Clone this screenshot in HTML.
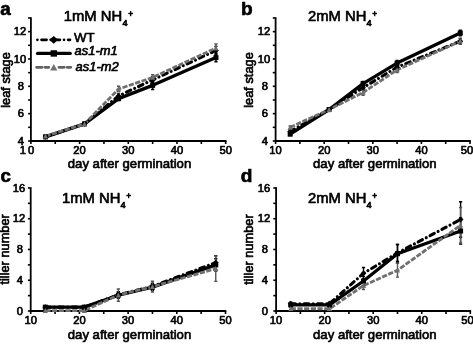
<!DOCTYPE html>
<html><head><meta charset="utf-8"><title>Figure</title>
<style>
html,body{margin:0;padding:0;background:#fff;}
body{width:473px;height:345px;overflow:hidden;font-family:"Liberation Sans", sans-serif;}
svg{display:block;font-family:"Liberation Sans", sans-serif;}
svg text{fill:#000;stroke:#000;stroke-width:0.65px;stroke-linejoin:round;}
svg{filter:blur(0.4px);}
</style></head><body>
<svg width="473" height="345" viewBox="0 0 473 345">
<rect width="473" height="345" fill="#fff"/>
<g id="pa"><path d="M30.9 17.27V141.75" stroke="#000" stroke-width="1.8" fill="none"/><path d="M30.099999999999998 141.0H226.50" stroke="#000" stroke-width="1.8" fill="none"/><path d="M30.90 141.0V144.0" stroke="#000" stroke-width="1.6"/><path d="M55.25 141.0V144.0" stroke="#000" stroke-width="1.6"/><path d="M79.60 141.0V144.0" stroke="#000" stroke-width="1.6"/><path d="M103.95 141.0V144.0" stroke="#000" stroke-width="1.6"/><path d="M128.30 141.0V144.0" stroke="#000" stroke-width="1.6"/><path d="M152.65 141.0V144.0" stroke="#000" stroke-width="1.6"/><path d="M177.00 141.0V144.0" stroke="#000" stroke-width="1.6"/><path d="M201.35 141.0V144.0" stroke="#000" stroke-width="1.6"/><path d="M225.70 141.0V144.0" stroke="#000" stroke-width="1.6"/><text x="27.90" y="154.4" font-size="11.2" stroke-width="0.55" text-anchor="middle" letter-spacing="2">10</text><text x="79.60" y="154.4" font-size="11.2" stroke-width="0.55" text-anchor="middle">20</text><text x="128.30" y="154.4" font-size="11.2" stroke-width="0.55" text-anchor="middle">30</text><text x="177.00" y="154.4" font-size="11.2" stroke-width="0.55" text-anchor="middle">40</text><text x="225.70" y="154.4" font-size="11.2" stroke-width="0.55" text-anchor="middle">50</text><path d="M28.099999999999998 141.00H30.9" stroke="#000" stroke-width="1.6"/><path d="M28.099999999999998 113.66H30.9" stroke="#000" stroke-width="1.6"/><path d="M28.099999999999998 86.32H30.9" stroke="#000" stroke-width="1.6"/><path d="M28.099999999999998 58.98H30.9" stroke="#000" stroke-width="1.6"/><path d="M28.099999999999998 31.64H30.9" stroke="#000" stroke-width="1.6"/><path d="M28.099999999999998 127.33H30.9" stroke="#000" stroke-width="1.6"/><path d="M28.099999999999998 99.99H30.9" stroke="#000" stroke-width="1.6"/><path d="M28.099999999999998 72.65H30.9" stroke="#000" stroke-width="1.6"/><path d="M28.099999999999998 45.31H30.9" stroke="#000" stroke-width="1.6"/><path d="M28.099999999999998 17.97H30.9" stroke="#000" stroke-width="1.6"/><text x="24.10" y="144.60" font-size="11.2" stroke-width="0.7" text-anchor="end">4</text><text x="24.10" y="117.26" font-size="11.2" stroke-width="0.7" text-anchor="end">6</text><text x="24.10" y="89.92" font-size="11.2" stroke-width="0.7" text-anchor="end">8</text><text x="26.20" y="62.58" font-size="11.2" stroke-width="0.7" text-anchor="end">10</text><text x="26.20" y="35.24" font-size="11.2" stroke-width="0.7" text-anchor="end">12</text><text x="0.19999999999999996" y="14.8" font-size="18.8" font-weight="bold" stroke-width="0.6">a</text><text x="63.8" y="21" font-size="14.8">1mM NH<tspan font-size="9.3" dy="4.9" dx="0.2">4</tspan><tspan font-size="8.4" dy="-9.2" dx="0.6">+</tspan></text><text transform="translate(9.6 80) rotate(-90)" font-size="12.8" text-anchor="middle">leaf stage</text><text x="129.5" y="168.0" font-size="13.15" text-anchor="middle">day after germination</text><path d="M45.51 136.90L84.47 123.91L118.56 95.89L152.65 79.90L215.96 50.50" stroke="#000" stroke-width="3.1" fill="none" stroke-dasharray="4.8 4.3 0.01 4.3" stroke-linejoin="round" stroke-linecap="round"/><path d="M45.51 136.90L84.47 123.91L118.56 98.62L152.65 85.36L215.96 57.61" stroke="#000" stroke-width="3.3" fill="none" stroke-linejoin="round"/><path d="M45.51 136.22L84.47 123.91L118.56 89.05L152.65 77.43L215.96 48.04" stroke="#707070" stroke-width="2.8" fill="none" stroke-dasharray="5.2 1.5" stroke-linejoin="round"/><path d="M45.51 135.53V138.27M43.91 135.53h3.2M43.91 138.27h3.2" stroke="#000" stroke-width="1.4" fill="none"/><path d="M84.47 122.55V125.28M82.87 122.55h3.2M82.87 125.28h3.2" stroke="#000" stroke-width="1.4" fill="none"/><path d="M118.56 93.84V97.94M116.96 93.84h3.2M116.96 97.94h3.2" stroke="#000" stroke-width="1.4" fill="none"/><path d="M152.65 77.16V82.63M151.05 77.16h3.2M151.05 82.63h3.2" stroke="#000" stroke-width="1.4" fill="none"/><path d="M215.96 46.40V54.61M214.36 46.40h3.2M214.36 54.61h3.2" stroke="#000" stroke-width="1.4" fill="none"/><path d="M45.51 135.53V138.27M43.91 135.53h3.2M43.91 138.27h3.2" stroke="#000" stroke-width="1.4" fill="none"/><path d="M84.47 122.55V125.28M82.87 122.55h3.2M82.87 125.28h3.2" stroke="#000" stroke-width="1.4" fill="none"/><path d="M118.56 96.57V100.67M116.96 96.57h3.2M116.96 100.67h3.2" stroke="#000" stroke-width="1.4" fill="none"/><path d="M152.65 81.26V89.46M151.05 81.26h3.2M151.05 89.46h3.2" stroke="#000" stroke-width="1.4" fill="none"/><path d="M215.96 53.51V61.71M214.36 53.51h3.2M214.36 61.71h3.2" stroke="#000" stroke-width="1.4" fill="none"/><path d="M45.51 134.85V137.58M43.91 134.85h3.2M43.91 137.58h3.2" stroke="#555" stroke-width="1.4" fill="none"/><path d="M84.47 122.55V125.28M82.87 122.55h3.2M82.87 125.28h3.2" stroke="#555" stroke-width="1.4" fill="none"/><path d="M118.56 86.32V91.79M116.96 86.32h3.2M116.96 91.79h3.2" stroke="#555" stroke-width="1.4" fill="none"/><path d="M152.65 74.70V80.17M151.05 74.70h3.2M151.05 80.17h3.2" stroke="#555" stroke-width="1.4" fill="none"/><path d="M215.96 43.94V52.14M214.36 43.94h3.2M214.36 52.14h3.2" stroke="#555" stroke-width="1.4" fill="none"/><path d="M42.61 136.90L45.51 134.00L48.41 136.90L45.51 139.80Z" fill="#000"/><path d="M81.57 123.91L84.47 121.01L87.37 123.91L84.47 126.81Z" fill="#000"/><path d="M115.66 95.89L118.56 92.99L121.46 95.89L118.56 98.79Z" fill="#000"/><path d="M149.75 79.90L152.65 77.00L155.55 79.90L152.65 82.80Z" fill="#000"/><path d="M213.06 50.50L215.96 47.60L218.86 50.50L215.96 53.40Z" fill="#000"/><rect x="43.01" y="134.40" width="5.0" height="5.0" fill="#000"/><rect x="81.97" y="121.41" width="5.0" height="5.0" fill="#000"/><rect x="116.06" y="96.12" width="5.0" height="5.0" fill="#000"/><rect x="150.15" y="82.86" width="5.0" height="5.0" fill="#000"/><rect x="213.46" y="55.11" width="5.0" height="5.0" fill="#000"/><path d="M42.91 138.56L48.11 138.56L45.51 133.62Z" fill="#707070"/><path d="M81.87 126.25L87.07 126.25L84.47 121.31Z" fill="#707070"/><path d="M115.96 91.39L121.16 91.39L118.56 86.45Z" fill="#707070"/><path d="M150.05 79.77L155.25 79.77L152.65 74.83Z" fill="#707070"/><path d="M213.36 50.38L218.56 50.38L215.96 45.44Z" fill="#707070"/></g>
<g id="pb"><path d="M275.6 17.27V141.75" stroke="#000" stroke-width="1.8" fill="none"/><path d="M274.8 141.0H470.80" stroke="#000" stroke-width="1.8" fill="none"/><path d="M275.60 141.0V144.0" stroke="#000" stroke-width="1.6"/><path d="M299.90 141.0V144.0" stroke="#000" stroke-width="1.6"/><path d="M324.20 141.0V144.0" stroke="#000" stroke-width="1.6"/><path d="M348.50 141.0V144.0" stroke="#000" stroke-width="1.6"/><path d="M372.80 141.0V144.0" stroke="#000" stroke-width="1.6"/><path d="M397.10 141.0V144.0" stroke="#000" stroke-width="1.6"/><path d="M421.40 141.0V144.0" stroke="#000" stroke-width="1.6"/><path d="M445.70 141.0V144.0" stroke="#000" stroke-width="1.6"/><path d="M470.00 141.0V144.0" stroke="#000" stroke-width="1.6"/><text x="275.60" y="154.4" font-size="11.2" stroke-width="0.55" text-anchor="middle">10</text><text x="324.20" y="154.4" font-size="11.2" stroke-width="0.55" text-anchor="middle">20</text><text x="372.80" y="154.4" font-size="11.2" stroke-width="0.55" text-anchor="middle">30</text><text x="421.40" y="154.4" font-size="11.2" stroke-width="0.55" text-anchor="middle">40</text><text x="466.90" y="154.4" font-size="11.2" stroke-width="0.55" text-anchor="middle">50</text><path d="M272.8 141.00H275.6" stroke="#000" stroke-width="1.6"/><path d="M272.8 113.66H275.6" stroke="#000" stroke-width="1.6"/><path d="M272.8 86.32H275.6" stroke="#000" stroke-width="1.6"/><path d="M272.8 58.98H275.6" stroke="#000" stroke-width="1.6"/><path d="M272.8 31.64H275.6" stroke="#000" stroke-width="1.6"/><path d="M272.8 127.33H275.6" stroke="#000" stroke-width="1.6"/><path d="M272.8 99.99H275.6" stroke="#000" stroke-width="1.6"/><path d="M272.8 72.65H275.6" stroke="#000" stroke-width="1.6"/><path d="M272.8 45.31H275.6" stroke="#000" stroke-width="1.6"/><path d="M272.8 17.97H275.6" stroke="#000" stroke-width="1.6"/><text x="268.10" y="144.60" font-size="11.2" stroke-width="0.7" text-anchor="end">4</text><text x="268.10" y="117.26" font-size="11.2" stroke-width="0.7" text-anchor="end">6</text><text x="268.10" y="89.92" font-size="11.2" stroke-width="0.7" text-anchor="end">8</text><text x="270.20" y="62.58" font-size="11.2" stroke-width="0.7" text-anchor="end">10</text><text x="270.20" y="35.24" font-size="11.2" stroke-width="0.7" text-anchor="end">12</text><text x="241.1" y="14.5" font-size="19.1" font-weight="bold" stroke-width="0.6">b</text><text x="308" y="21" font-size="14.8">2mM NH<tspan font-size="9.3" dy="4.9" dx="0.2">4</tspan><tspan font-size="8.4" dy="-9.2" dx="0.6">+</tspan></text><text transform="translate(253.2 80) rotate(-90)" font-size="12.8" text-anchor="middle">leaf stage</text><text x="374.8" y="168.0" font-size="13.15" text-anchor="middle">day after germination</text><path d="M290.18 131.43L329.06 109.56L363.08 87.69L397.10 67.18L460.28 41.21" stroke="#000" stroke-width="3.1" fill="none" stroke-dasharray="4.8 4.3 0.01 4.3" stroke-linejoin="round" stroke-linecap="round"/><path d="M290.18 134.16L329.06 109.56L363.08 83.59L397.10 63.08L460.28 33.01" stroke="#000" stroke-width="3.3" fill="none" stroke-linejoin="round"/><path d="M290.18 127.33L329.06 109.56L363.08 92.47L397.10 69.92L460.28 41.21" stroke="#707070" stroke-width="2.8" fill="none" stroke-dasharray="5.2 1.5" stroke-linejoin="round"/><path d="M290.18 130.06V132.80M288.58 130.06h3.2M288.58 132.80h3.2" stroke="#000" stroke-width="1.4" fill="none"/><path d="M329.06 108.19V110.93M327.46 108.19h3.2M327.46 110.93h3.2" stroke="#000" stroke-width="1.4" fill="none"/><path d="M363.08 85.64V89.74M361.48 85.64h3.2M361.48 89.74h3.2" stroke="#000" stroke-width="1.4" fill="none"/><path d="M397.10 64.45V69.92M395.50 64.45h3.2M395.50 69.92h3.2" stroke="#000" stroke-width="1.4" fill="none"/><path d="M460.28 38.47V43.94M458.68 38.47h3.2M458.68 43.94h3.2" stroke="#000" stroke-width="1.4" fill="none"/><path d="M290.18 132.80V135.53M288.58 132.80h3.2M288.58 135.53h3.2" stroke="#000" stroke-width="1.4" fill="none"/><path d="M329.06 108.19V110.93M327.46 108.19h3.2M327.46 110.93h3.2" stroke="#000" stroke-width="1.4" fill="none"/><path d="M363.08 81.54V85.64M361.48 81.54h3.2M361.48 85.64h3.2" stroke="#000" stroke-width="1.4" fill="none"/><path d="M397.10 60.35V65.81M395.50 60.35h3.2M395.50 65.81h3.2" stroke="#000" stroke-width="1.4" fill="none"/><path d="M460.28 30.27V35.74M458.68 30.27h3.2M458.68 35.74h3.2" stroke="#000" stroke-width="1.4" fill="none"/><path d="M290.18 125.96V128.70M288.58 125.96h3.2M288.58 128.70h3.2" stroke="#555" stroke-width="1.4" fill="none"/><path d="M329.06 108.19V110.93M327.46 108.19h3.2M327.46 110.93h3.2" stroke="#555" stroke-width="1.4" fill="none"/><path d="M363.08 89.74V95.21M361.48 89.74h3.2M361.48 95.21h3.2" stroke="#555" stroke-width="1.4" fill="none"/><path d="M397.10 67.18V72.65M395.50 67.18h3.2M395.50 72.65h3.2" stroke="#555" stroke-width="1.4" fill="none"/><path d="M460.28 38.47V43.94M458.68 38.47h3.2M458.68 43.94h3.2" stroke="#555" stroke-width="1.4" fill="none"/><path d="M287.28 131.43L290.18 128.53L293.08 131.43L290.18 134.33Z" fill="#000"/><path d="M326.16 109.56L329.06 106.66L331.96 109.56L329.06 112.46Z" fill="#000"/><path d="M360.18 87.69L363.08 84.79L365.98 87.69L363.08 90.59Z" fill="#000"/><path d="M394.20 67.18L397.10 64.28L400.00 67.18L397.10 70.08Z" fill="#000"/><path d="M457.38 41.21L460.28 38.31L463.18 41.21L460.28 44.11Z" fill="#000"/><rect x="287.68" y="131.66" width="5.0" height="5.0" fill="#000"/><rect x="326.56" y="107.06" width="5.0" height="5.0" fill="#000"/><rect x="360.58" y="81.09" width="5.0" height="5.0" fill="#000"/><rect x="394.60" y="60.58" width="5.0" height="5.0" fill="#000"/><rect x="457.78" y="30.51" width="5.0" height="5.0" fill="#000"/><path d="M287.58 129.67L292.78 129.67L290.18 124.73Z" fill="#707070"/><path d="M326.46 111.90L331.66 111.90L329.06 106.96Z" fill="#707070"/><path d="M360.48 94.81L365.68 94.81L363.08 89.87Z" fill="#707070"/><path d="M394.50 72.26L399.70 72.26L397.10 67.32Z" fill="#707070"/><path d="M457.68 43.55L462.88 43.55L460.28 38.61Z" fill="#707070"/></g>
<g id="pc"><path d="M30.7 187.26V311.75" stroke="#000" stroke-width="1.8" fill="none"/><path d="M29.9 311.0H226.30" stroke="#000" stroke-width="1.8" fill="none"/><path d="M30.70 311.0V314.0" stroke="#000" stroke-width="1.6"/><path d="M55.05 311.0V314.0" stroke="#000" stroke-width="1.6"/><path d="M79.40 311.0V314.0" stroke="#000" stroke-width="1.6"/><path d="M103.75 311.0V314.0" stroke="#000" stroke-width="1.6"/><path d="M128.10 311.0V314.0" stroke="#000" stroke-width="1.6"/><path d="M152.45 311.0V314.0" stroke="#000" stroke-width="1.6"/><path d="M176.80 311.0V314.0" stroke="#000" stroke-width="1.6"/><path d="M201.15 311.0V314.0" stroke="#000" stroke-width="1.6"/><path d="M225.50 311.0V314.0" stroke="#000" stroke-width="1.6"/><text x="30.70" y="324.4" font-size="11.2" stroke-width="0.55" text-anchor="middle">10</text><text x="79.40" y="324.4" font-size="11.2" stroke-width="0.55" text-anchor="middle">20</text><text x="128.10" y="324.4" font-size="11.2" stroke-width="0.55" text-anchor="middle">30</text><text x="176.80" y="324.4" font-size="11.2" stroke-width="0.55" text-anchor="middle">40</text><text x="225.50" y="324.4" font-size="11.2" stroke-width="0.55" text-anchor="middle">50</text><path d="M27.9 311.00H30.7" stroke="#000" stroke-width="1.6"/><path d="M27.9 280.24H30.7" stroke="#000" stroke-width="1.6"/><path d="M27.9 249.48H30.7" stroke="#000" stroke-width="1.6"/><path d="M27.9 218.72H30.7" stroke="#000" stroke-width="1.6"/><path d="M27.9 187.96H30.7" stroke="#000" stroke-width="1.6"/><path d="M27.9 295.62H30.7" stroke="#000" stroke-width="1.6"/><path d="M27.9 264.86H30.7" stroke="#000" stroke-width="1.6"/><path d="M27.9 234.10H30.7" stroke="#000" stroke-width="1.6"/><path d="M27.9 203.34H30.7" stroke="#000" stroke-width="1.6"/><text x="23.10" y="314.60" font-size="11.2" stroke-width="0.7" text-anchor="end">0</text><text x="23.10" y="283.84" font-size="11.2" stroke-width="0.7" text-anchor="end">4</text><text x="23.10" y="253.08" font-size="11.2" stroke-width="0.7" text-anchor="end">8</text><text x="25.20" y="222.32" font-size="11.2" stroke-width="0.7" text-anchor="end">12</text><text x="25.20" y="191.56" font-size="11.2" stroke-width="0.7" text-anchor="end">16</text><text x="0.4" y="182.1" font-size="18.8" font-weight="bold" stroke-width="0.6">c</text><text x="62" y="203" font-size="14.8">1mM NH<tspan font-size="9.3" dy="4.9" dx="0.2">4</tspan><tspan font-size="8.4" dy="-9.2" dx="0.6">+</tspan></text><text transform="translate(9.1 249.4) rotate(-90)" font-size="12.8" text-anchor="middle">tiller number</text><text x="129.5" y="339.0" font-size="13.15" text-anchor="middle">day after germination</text><path d="M45.31 307.15L84.27 307.15L118.36 294.85L152.45 286.39L215.76 262.55" stroke="#000" stroke-width="3.1" fill="none" stroke-dasharray="4.8 4.3 0.01 4.3" stroke-linejoin="round" stroke-linecap="round"/><path d="M45.31 307.15L84.27 307.15L118.36 295.24L152.45 287.16L215.76 264.86" stroke="#000" stroke-width="3.3" fill="none" stroke-linejoin="round"/><path d="M45.31 310.62L84.27 310.62L118.36 295.08L152.45 286.62L215.76 268.70" stroke="#707070" stroke-width="2.8" fill="none" stroke-dasharray="5.2 1.5" stroke-linejoin="round"/><path d="M45.31 305.62V308.69M43.71 305.62h3.2M43.71 308.69h3.2" stroke="#000" stroke-width="1.4" fill="none"/><path d="M84.27 305.62V308.69M82.67 305.62h3.2M82.67 308.69h3.2" stroke="#000" stroke-width="1.4" fill="none"/><path d="M118.36 291.77V297.93M116.76 291.77h3.2M116.76 297.93h3.2" stroke="#000" stroke-width="1.4" fill="none"/><path d="M152.45 283.32V289.47M150.85 283.32h3.2M150.85 289.47h3.2" stroke="#000" stroke-width="1.4" fill="none"/><path d="M215.76 255.63V269.47M214.16 255.63h3.2M214.16 269.47h3.2" stroke="#000" stroke-width="1.4" fill="none"/><path d="M45.31 305.62V308.69M43.71 305.62h3.2M43.71 308.69h3.2" stroke="#000" stroke-width="1.4" fill="none"/><path d="M84.27 305.62V308.69M82.67 305.62h3.2M82.67 308.69h3.2" stroke="#000" stroke-width="1.4" fill="none"/><path d="M118.36 292.16V298.31M116.76 292.16h3.2M116.76 298.31h3.2" stroke="#000" stroke-width="1.4" fill="none"/><path d="M152.45 284.08V290.24M150.85 284.08h3.2M150.85 290.24h3.2" stroke="#000" stroke-width="1.4" fill="none"/><path d="M215.76 258.71V271.01M214.16 258.71h3.2M214.16 271.01h3.2" stroke="#000" stroke-width="1.4" fill="none"/><path d="M45.31 309.08V312.15M43.71 309.08h3.2M43.71 312.15h3.2" stroke="#555" stroke-width="1.4" fill="none"/><path d="M84.27 309.08V312.15M82.67 309.08h3.2M82.67 312.15h3.2" stroke="#555" stroke-width="1.4" fill="none"/><path d="M118.36 288.93V301.23M116.76 288.93h3.2M116.76 301.23h3.2" stroke="#555" stroke-width="1.4" fill="none"/><path d="M152.45 281.24V292.01M150.85 281.24h3.2M150.85 292.01h3.2" stroke="#555" stroke-width="1.4" fill="none"/><path d="M215.76 256.02V281.39M214.16 256.02h3.2M214.16 281.39h3.2" stroke="#555" stroke-width="1.4" fill="none"/><path d="M42.41 307.15L45.31 304.25L48.21 307.15L45.31 310.05Z" fill="#000"/><path d="M81.37 307.15L84.27 304.25L87.17 307.15L84.27 310.05Z" fill="#000"/><path d="M115.46 294.85L118.36 291.95L121.26 294.85L118.36 297.75Z" fill="#000"/><path d="M149.55 286.39L152.45 283.49L155.35 286.39L152.45 289.29Z" fill="#000"/><path d="M212.86 262.55L215.76 259.65L218.66 262.55L215.76 265.45Z" fill="#000"/><rect x="42.81" y="304.65" width="5.0" height="5.0" fill="#000"/><rect x="81.77" y="304.65" width="5.0" height="5.0" fill="#000"/><rect x="115.86" y="292.74" width="5.0" height="5.0" fill="#000"/><rect x="149.95" y="284.66" width="5.0" height="5.0" fill="#000"/><rect x="213.26" y="262.36" width="5.0" height="5.0" fill="#000"/><path d="M42.71 312.96L47.91 312.96L45.31 308.02Z" fill="#707070"/><path d="M81.67 312.96L86.87 312.96L84.27 308.02Z" fill="#707070"/><path d="M115.76 297.42L120.96 297.42L118.36 292.48Z" fill="#707070"/><path d="M149.85 288.96L155.05 288.96L152.45 284.02Z" fill="#707070"/><path d="M213.16 271.04L218.36 271.04L215.76 266.10Z" fill="#707070"/></g>
<g id="pd"><path d="M276.1 187.26V311.75" stroke="#000" stroke-width="1.8" fill="none"/><path d="M275.3 311.0H471.10" stroke="#000" stroke-width="1.8" fill="none"/><path d="M276.10 311.0V314.0" stroke="#000" stroke-width="1.6"/><path d="M300.38 311.0V314.0" stroke="#000" stroke-width="1.6"/><path d="M324.65 311.0V314.0" stroke="#000" stroke-width="1.6"/><path d="M348.93 311.0V314.0" stroke="#000" stroke-width="1.6"/><path d="M373.20 311.0V314.0" stroke="#000" stroke-width="1.6"/><path d="M397.48 311.0V314.0" stroke="#000" stroke-width="1.6"/><path d="M421.75 311.0V314.0" stroke="#000" stroke-width="1.6"/><path d="M446.03 311.0V314.0" stroke="#000" stroke-width="1.6"/><path d="M470.30 311.0V314.0" stroke="#000" stroke-width="1.6"/><text x="276.10" y="324.4" font-size="11.2" stroke-width="0.55" text-anchor="middle">10</text><text x="324.65" y="324.4" font-size="11.2" stroke-width="0.55" text-anchor="middle">20</text><text x="373.20" y="324.4" font-size="11.2" stroke-width="0.55" text-anchor="middle">30</text><text x="421.75" y="324.4" font-size="11.2" stroke-width="0.55" text-anchor="middle">40</text><text x="467.40" y="324.4" font-size="11.2" stroke-width="0.55" text-anchor="middle">50</text><path d="M273.3 311.00H276.1" stroke="#000" stroke-width="1.6"/><path d="M273.3 280.24H276.1" stroke="#000" stroke-width="1.6"/><path d="M273.3 249.48H276.1" stroke="#000" stroke-width="1.6"/><path d="M273.3 218.72H276.1" stroke="#000" stroke-width="1.6"/><path d="M273.3 187.96H276.1" stroke="#000" stroke-width="1.6"/><path d="M273.3 295.62H276.1" stroke="#000" stroke-width="1.6"/><path d="M273.3 264.86H276.1" stroke="#000" stroke-width="1.6"/><path d="M273.3 234.10H276.1" stroke="#000" stroke-width="1.6"/><path d="M273.3 203.34H276.1" stroke="#000" stroke-width="1.6"/><text x="268.10" y="314.60" font-size="11.2" stroke-width="0.7" text-anchor="end">0</text><text x="268.10" y="283.84" font-size="11.2" stroke-width="0.7" text-anchor="end">4</text><text x="268.10" y="253.08" font-size="11.2" stroke-width="0.7" text-anchor="end">8</text><text x="270.20" y="222.32" font-size="11.2" stroke-width="0.7" text-anchor="end">12</text><text x="270.20" y="191.56" font-size="11.2" stroke-width="0.7" text-anchor="end">16</text><text x="240.8" y="182.1" font-size="19.1" font-weight="bold" stroke-width="0.6">d</text><text x="308" y="203" font-size="14.8">2mM NH<tspan font-size="9.3" dy="4.9" dx="0.2">4</tspan><tspan font-size="8.4" dy="-9.2" dx="0.6">+</tspan></text><text transform="translate(253.2 249.5) rotate(-90)" font-size="12.8" text-anchor="middle">tiller number</text><text x="374.8" y="339.0" font-size="13.15" text-anchor="middle">day after germination</text><path d="M290.67 303.69L329.50 303.69L363.49 273.32L397.48 252.94L460.59 219.49" stroke="#000" stroke-width="3.1" fill="none" stroke-dasharray="4.8 4.3 0.01 4.3" stroke-linejoin="round" stroke-linecap="round"/><path d="M290.67 304.85L329.50 304.85L363.49 281.01L397.48 253.71L460.59 231.02" stroke="#000" stroke-width="3.3" fill="none" stroke-linejoin="round"/><path d="M290.67 308.77L329.50 308.77L363.49 285.62L397.48 270.24L460.59 225.26" stroke="#707070" stroke-width="2.8" fill="none" stroke-dasharray="5.2 1.5" stroke-linejoin="round"/><path d="M290.67 302.16V305.23M289.06 302.16h3.2M289.06 305.23h3.2" stroke="#000" stroke-width="1.4" fill="none"/><path d="M329.50 302.16V305.23M327.90 302.16h3.2M327.90 305.23h3.2" stroke="#000" stroke-width="1.4" fill="none"/><path d="M363.49 267.55V279.09M361.89 267.55h3.2M361.89 279.09h3.2" stroke="#000" stroke-width="1.4" fill="none"/><path d="M397.48 244.48V261.40M395.88 244.48h3.2M395.88 261.40h3.2" stroke="#000" stroke-width="1.4" fill="none"/><path d="M460.59 201.80V237.18M458.99 201.80h3.2M458.99 237.18h3.2" stroke="#000" stroke-width="1.4" fill="none"/><path d="M290.67 303.31V306.39M289.06 303.31h3.2M289.06 306.39h3.2" stroke="#000" stroke-width="1.4" fill="none"/><path d="M329.50 303.31V306.39M327.90 303.31h3.2M327.90 306.39h3.2" stroke="#000" stroke-width="1.4" fill="none"/><path d="M363.49 276.40V285.62M361.89 276.40h3.2M361.89 285.62h3.2" stroke="#000" stroke-width="1.4" fill="none"/><path d="M397.48 244.48V262.94M395.88 244.48h3.2M395.88 262.94h3.2" stroke="#000" stroke-width="1.4" fill="none"/><path d="M460.59 217.95V244.10M458.99 217.95h3.2M458.99 244.10h3.2" stroke="#000" stroke-width="1.4" fill="none"/><path d="M290.67 307.23V310.31M289.06 307.23h3.2M289.06 310.31h3.2" stroke="#555" stroke-width="1.4" fill="none"/><path d="M329.50 307.23V310.31M327.90 307.23h3.2M327.90 310.31h3.2" stroke="#555" stroke-width="1.4" fill="none"/><path d="M363.49 281.78V289.47M361.89 281.78h3.2M361.89 289.47h3.2" stroke="#555" stroke-width="1.4" fill="none"/><path d="M397.48 263.32V277.16M395.88 263.32h3.2M395.88 277.16h3.2" stroke="#555" stroke-width="1.4" fill="none"/><path d="M460.59 207.57V242.94M458.99 207.57h3.2M458.99 242.94h3.2" stroke="#555" stroke-width="1.4" fill="none"/><path d="M287.77 303.69L290.67 300.79L293.56 303.69L290.67 306.59Z" fill="#000"/><path d="M326.61 303.69L329.50 300.79L332.40 303.69L329.50 306.59Z" fill="#000"/><path d="M360.59 273.32L363.49 270.42L366.39 273.32L363.49 276.22Z" fill="#000"/><path d="M394.58 252.94L397.48 250.04L400.38 252.94L397.48 255.84Z" fill="#000"/><path d="M457.69 219.49L460.59 216.59L463.49 219.49L460.59 222.39Z" fill="#000"/><rect x="288.17" y="302.35" width="5.0" height="5.0" fill="#000"/><rect x="327.00" y="302.35" width="5.0" height="5.0" fill="#000"/><rect x="360.99" y="278.51" width="5.0" height="5.0" fill="#000"/><rect x="394.98" y="251.21" width="5.0" height="5.0" fill="#000"/><rect x="458.09" y="228.52" width="5.0" height="5.0" fill="#000"/><path d="M288.06 311.11L293.27 311.11L290.67 306.17Z" fill="#707070"/><path d="M326.90 311.11L332.11 311.11L329.50 306.17Z" fill="#707070"/><path d="M360.89 287.96L366.09 287.96L363.49 283.02Z" fill="#707070"/><path d="M394.88 272.58L400.08 272.58L397.48 267.64Z" fill="#707070"/><path d="M457.99 227.60L463.19 227.60L460.59 222.66Z" fill="#707070"/></g>
<g id="legend"><path d="M37.4 39.8H70" stroke="#000" stroke-width="2.7" stroke-linecap="round" stroke-dasharray="0.01 4.1 5.1 4.1"/><path d="M49.40 39.80L53.70 35.90L58.00 39.80L53.70 43.70Z" fill="#000"/><text x="74" y="41.5" font-size="13.3">WT</text><path d="M37.6 53.45H70.2" stroke="#000" stroke-width="3.3" stroke-linecap="round"/><rect x="50.60" y="50.25" width="6.4" height="6.4" fill="#000"/><text x="74.6" y="55.1" font-size="12.9" font-style="italic">as1-m1</text><path d="M36.6 67.3H42.1M45 67.3H48.8M58.9 67.3H64.3M67.2 67.3H70.8" stroke="#626262" stroke-width="2.8" stroke-linecap="round"/><path d="M50.20 70.60L57.40 70.60L53.80 63.90Z" fill="#707070"/><text x="75.6" y="70.6" font-size="12.9" font-style="italic">as1-m2</text></g>
</svg>
</body></html>
